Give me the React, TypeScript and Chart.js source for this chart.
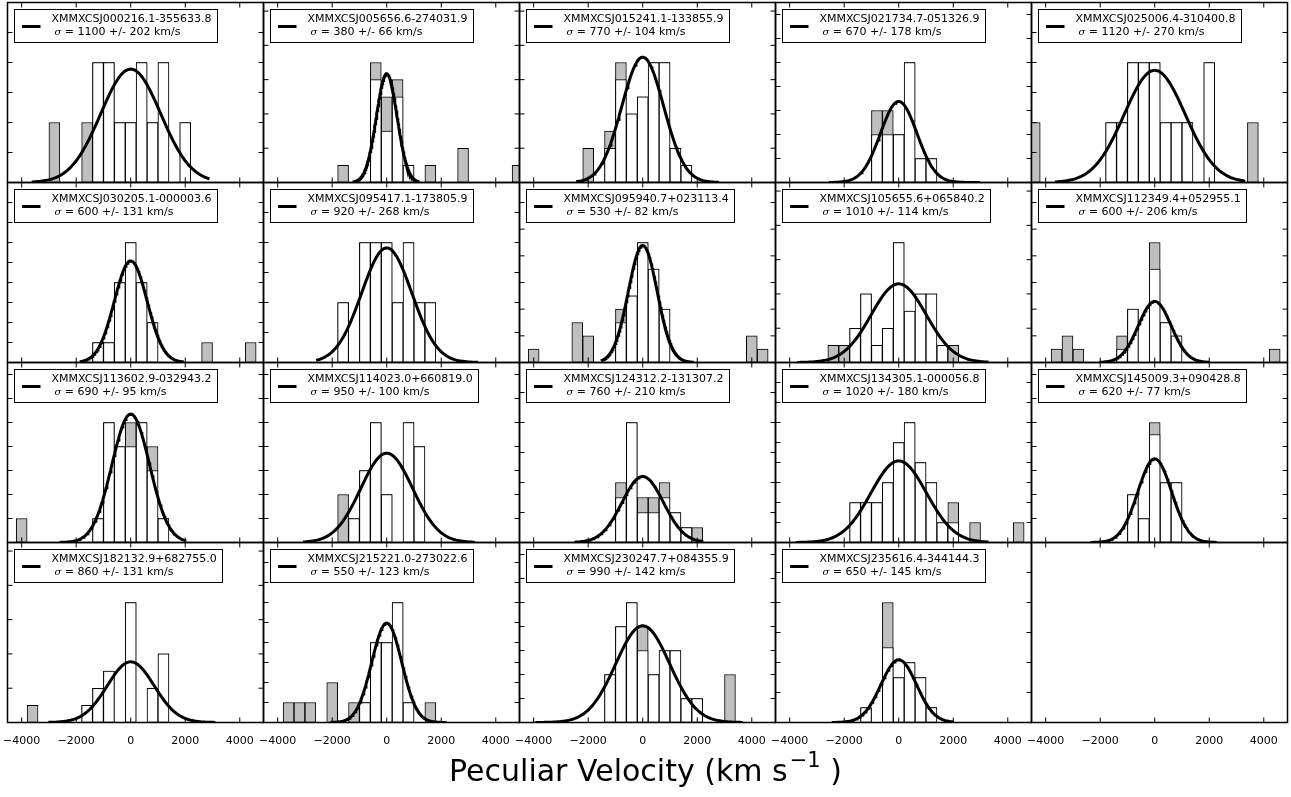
import React, { useEffect, useRef } from "react";
import { Chart, registerables } from "chart.js";

Chart.register(...registerables);
Chart.defaults.font.family = '"DejaVu Sans", sans-serif';

// ---------------- data ----------------
const binCenters = [-4400, -4000, -3600, -3200, -2800, -2400, -2000, -1600, -1200, -800, -400, 0,
  400, 800, 1200, 1600, 2000, 2400, 2800, 3200, 3600, 4000, 4400, 4800];
const xTickValues = [-4000, -2000, 0, 2000, 4000];
const X_MIN = -4520;
const X_MAX = 4870;

const clusterNames = [
  "XMMXCSJ000216.1-355633.8", "XMMXCSJ005656.6-274031.9", "XMMXCSJ015241.1-133855.9",
  "XMMXCSJ021734.7-051326.9", "XMMXCSJ025006.4-310400.8", "XMMXCSJ030205.1-000003.6",
  "XMMXCSJ095417.1-173805.9", "XMMXCSJ095940.7+023113.4", "XMMXCSJ105655.6+065840.2",
  "XMMXCSJ112349.4+052955.1", "XMMXCSJ113602.9-032943.2", "XMMXCSJ114023.0+660819.0",
  "XMMXCSJ124312.2-131307.2", "XMMXCSJ134305.1-000056.8", "XMMXCSJ145009.3+090428.8",
  "XMMXCSJ182132.9+682755.0", "XMMXCSJ215221.0-273022.6", "XMMXCSJ230247.7+084355.9",
  "XMMXCSJ235616.4-344144.3",
];
const sigmaValues = [1100, 380, 770, 670, 1120, 600, 920, 530, 1010, 600, 690, 950, 760, 1020, 620, 860, 550, 990, 650];
const sigmaErrors = [202, 66, 104, 178, 270, 131, 268, 82, 114, 206, 95, 100, 210, 180, 77, 131, 123, 142, 145];

// y-axis upper limit and tick step (counts)
const yMaxCounts = [3, 10.5, 10.5, 7.5, 3, 9, 3, 13.5, 10.5, 13.5, 7.5, 7.5, 12, 9, 15, 10.5, 9, 7.5, 12];
const yTickSteps = [0.5, 2, 2, 1, 0.5, 1, 0.5, 2, 2, 2, 1, 1, 2, 1, 2, 2, 1, 1, 2];
// Gaussian model: peak height (counts) and plotted velocity range
const gaussPeaks = [1.89, 6.34, 7.31, 3.375, 1.87, 5.08, 1.91, 8.78, 4.59, 4.58, 5.35, 3.72, 4.4, 4.08, 6.97, 3.54, 4.97, 4.03, 4.18];
const curveLo = [-3630, -1220, -2440, -2560, -3660, -1870, -2590, -1520, -3720, -2000, -2620, -3070, -2500, -3780, -2350, -3020, -2070, -3940, -2460];
const curveHi = [2890, 1190, 2790, 2980, 3320, 1950, 3350, 1880, 3290, 2000, 2040, 3230, 2220, 3290, 2280, 3100, 2200, 3680, 2010];

// histograms: [bin centre (km/s), count]; "all" = every galaxy (grey), "mem" = members (white)
const all01 = [[-2800, 1], [-1600, 1], [-1200, 2], [-800, 2], [-400, 1], [0, 1], [400, 2], [800, 1], [1200, 2], [2000, 1]];
const mem01 = [[-1200, 2], [-800, 2], [-400, 1], [0, 1], [400, 2], [800, 1], [1200, 2], [2000, 1]];
const all02 = [[-1600, 1], [-400, 7], [0, 5], [400, 6], [800, 1], [1600, 1], [2800, 2], [4800, 1]];
const mem02 = [[-400, 6], [0, 3], [400, 5], [800, 1]];
const all03 = [[-2000, 2], [-1200, 3], [-800, 7], [-400, 4], [0, 5], [400, 7], [800, 7], [1200, 2], [1600, 1]];
const mem03 = [[-1200, 2], [-800, 6], [-400, 4], [0, 5], [400, 7], [800, 7], [1200, 2], [1600, 1]];
const all04 = [[-800, 3], [-400, 3], [0, 2], [400, 5], [800, 1], [1200, 1]];
const mem04 = [[-800, 2], [-400, 2], [0, 2], [400, 5], [800, 1], [1200, 1]];
const all05 = [[-4400, 1], [-1600, 1], [-1200, 1], [-800, 2], [-400, 2], [0, 2], [400, 1], [800, 1], [1200, 1], [2000, 2], [3600, 1]];
const mem05 = [[-1600, 1], [-1200, 1], [-800, 2], [-400, 2], [0, 2], [400, 1], [800, 1], [1200, 1], [2000, 2]];
const all06 = [[-1200, 1], [-800, 1], [-400, 4], [0, 6], [400, 4], [800, 2], [2800, 1], [4400, 1]];
const mem06 = [[-1200, 1], [-800, 1], [-400, 4], [0, 6], [400, 4], [800, 2]];
const all07 = [[-1600, 1], [-800, 2], [-400, 2], [0, 2], [400, 1], [800, 2], [1200, 1], [1600, 1]];
const mem07 = [[-1600, 1], [-800, 2], [-400, 2], [0, 2], [400, 1], [800, 2], [1200, 1], [1600, 1]];
const all08 = [[-4000, 1], [-2400, 3], [-2000, 2], [-800, 4], [-400, 5], [0, 9], [400, 7], [800, 4], [4000, 2], [4400, 1]];
const mem08 = [[-800, 3], [-400, 5], [0, 9], [400, 7], [800, 4]];
const all09 = [[-2400, 1], [-2000, 1], [-1600, 2], [-1200, 4], [-800, 1], [-400, 2], [0, 7], [400, 3], [800, 4], [1200, 4], [1600, 1], [2000, 1]];
const mem09 = [[-1600, 2], [-1200, 4], [-800, 1], [-400, 2], [0, 7], [400, 3], [800, 4], [1200, 4], [1600, 1]];
const all10 = [[-3600, 1], [-3200, 2], [-2800, 1], [-1200, 2], [-800, 4], [0, 9], [400, 3], [800, 2], [4400, 1]];
const mem10 = [[-1200, 1], [-800, 4], [0, 7], [400, 3], [800, 2]];
const all11 = [[-4000, 1], [-1200, 1], [-800, 5], [-400, 4], [0, 5], [400, 5], [800, 4], [1200, 1]];
const mem11 = [[-1200, 1], [-800, 5], [-400, 4], [0, 4], [400, 5], [800, 3], [1200, 1]];
const all12 = [[-1600, 2], [-1200, 1], [-800, 3], [-400, 5], [0, 2], [800, 5], [1200, 4]];
const mem12 = [[-1200, 1], [-800, 3], [-400, 5], [0, 2], [800, 5], [1200, 4]];
const all13 = [[-800, 4], [-400, 8], [0, 3], [400, 3], [800, 4], [1200, 2], [1600, 1], [2000, 1]];
const mem13 = [[-800, 3], [-400, 8], [0, 2], [400, 2], [800, 3], [1200, 2], [1600, 1]];
const all14 = [[-1600, 2], [-1200, 2], [-800, 2], [-400, 3], [0, 5], [400, 6], [800, 4], [1200, 3], [1600, 1], [2000, 2], [2800, 1], [4400, 1]];
const mem14 = [[-1600, 2], [-1200, 2], [-800, 2], [-400, 3], [0, 5], [400, 6], [800, 4], [1200, 3], [1600, 1], [2000, 1]];
const all15 = [[-800, 4], [-400, 2], [0, 10], [400, 5], [800, 5]];
const mem15 = [[-800, 4], [-400, 2], [0, 9], [400, 5], [800, 5]];
const all16 = [[-3600, 1], [-1600, 1], [-1200, 2], [-800, 3], [0, 7], [800, 2], [1200, 4]];
const mem16 = [[-1600, 1], [-1200, 2], [-800, 3], [0, 7], [800, 2], [1200, 4]];
const all17 = [[-3600, 1], [-3200, 1], [-2800, 1], [-2000, 2], [-1200, 1], [-800, 1], [-400, 4], [0, 4], [400, 6], [800, 1], [1600, 1]];
const mem17 = [[-800, 1], [-400, 4], [0, 4], [400, 6], [800, 1]];
const all18 = [[-1200, 2], [-800, 4], [-400, 5], [0, 4], [400, 2], [800, 3], [1200, 3], [1600, 1], [2000, 1], [3200, 2]];
const mem18 = [[-1200, 2], [-800, 4], [-400, 5], [0, 3], [400, 2], [800, 3], [1200, 3], [1600, 1], [2000, 1]];
const all19 = [[-1200, 1], [-400, 8], [0, 3], [400, 4], [800, 3], [1200, 1]];
const mem19 = [[-1200, 1], [-400, 5], [0, 3], [400, 4], [800, 3], [1200, 1]];

const allHists = [all01, all02, all03, all04, all05, all06, all07, all08, all09, all10, all11, all12, all13, all14, all15, all16, all17, all18, all19];
const memHists = [mem01, mem02, mem03, mem04, mem05, mem06, mem07, mem08, mem09, mem10, mem11, mem12, mem13, mem14, mem15, mem16, mem17, mem18, mem19];

// ---------------- layout ----------------
const PANEL_W = 256;
const PANEL_H = 180;
const PAD = 2.5;
const PAD_X = 22.5;
const LABEL_H = 30;
const FRAME_LEFT = 7.5;
const FRAME_TOP = 2.5;
const GREY = "#bfbfbf";

function dense(pairs: number[][]) {
  return binCenters.map((c) => {
    const f = pairs.find((p) => p[0] === c);
    return { x: c, y: f ? f[1] : null };
  });
}

function gaussCurve(i: number) {
  const pts: { x: number; y: number }[] = [];
  const n = 160;
  const s = sigmaValues[i];
  for (let k = 0; k <= n; k++) {
    const x = curveLo[i] + ((curveHi[i] - curveLo[i]) * k) / n;
    pts.push({ x, y: gaussPeaks[i] * Math.exp(-(x * x) / (2 * s * s)) });
  }
  return pts;
}

function fmtTick(v: number) {
  return v < 0 ? "\u2212" + Math.abs(v) : String(v);
}

function makeFramePlugin(i: number) {
  return {
    id: "frame",
    afterDraw(chart: any) {
      const { ctx, chartArea: a, scales } = chart;
      const xs = scales.x;
      const ys = scales.y;
      ctx.save();
      ctx.strokeStyle = "#000";
      ctx.lineWidth = 1;
      ctx.beginPath();
      for (const v of xTickValues) {
        const px = xs.getPixelForValue(v);
        ctx.moveTo(px, a.bottom);
        ctx.lineTo(px, a.bottom - 5);
        ctx.moveTo(px, a.top);
        ctx.lineTo(px, a.top + 5);
      }
      if (i < clusterNames.length) {
        const step = yTickSteps[i];
        for (let k = 1; k * step < yMaxCounts[i] - 1e-9; k++) {
          const py = ys.getPixelForValue(k * step);
          ctx.moveTo(a.left, py);
          ctx.lineTo(a.left + 5, py);
          ctx.moveTo(a.right, py);
          ctx.lineTo(a.right - 5, py);
        }
      }
      ctx.stroke();
      ctx.lineWidth = 1.5;
      ctx.strokeRect(a.left, a.top, a.right - a.left, a.bottom - a.top);
      if (i < clusterNames.length) {
        const name = clusterNames[i];
        ctx.font = '11px "DejaVu Sans"';
        const w = ctx.measureText(name).width;
        const x0 = Math.round(a.left + 6) + 0.5;
        const y0 = Math.round(a.top + 6) + 0.5;
        const bw = Math.round(w + 43);
        const bh = 33;
        ctx.fillStyle = "#fff";
        ctx.fillRect(x0, y0, bw, bh);
        ctx.lineWidth = 1;
        ctx.strokeRect(x0, y0, bw, bh);
        ctx.lineWidth = 3;
        ctx.beginPath();
        ctx.moveTo(x0 + 7.5, y0 + 17);
        ctx.lineTo(x0 + 26, y0 + 17);
        ctx.stroke();
        ctx.fillStyle = "#000";
        ctx.textAlign = "left";
        ctx.textBaseline = "alphabetic";
        ctx.fillText(name, x0 + 37, y0 + 12.5);
        ctx.font = 'italic 10px "DejaVu Serif"';
        ctx.fillText("\u03c3", x0 + 40, y0 + 25);
        const sw = ctx.measureText("\u03c3").width;
        ctx.font = '11px "DejaVu Sans"';
        ctx.fillText(" = " + sigmaValues[i] + " +/- " + sigmaErrors[i] + " km/s", x0 + 40 + sw, y0 + 25);
      }
      ctx.restore();
    },
  };
}

function makeConfig(i: number): any {
  const row = Math.floor(i / 5);
  const isBottom = row === 3;
  const hasData = i < clusterNames.length;
  const datasets: any[] = [];
  if (hasData) {
    datasets.push({
      type: "line",
      data: gaussCurve(i),
      borderColor: "#000",
      borderWidth: 3,
      pointRadius: 0,
      tension: 0,
      order: 0,
    });
    datasets.push({
      type: "bar",
      data: dense(memHists[i]),
      backgroundColor: "#ffffff",
      borderColor: "#000",
      borderWidth: 1,
      borderSkipped: false,
      grouped: false,
      categoryPercentage: 1,
      barPercentage: 1,
      order: 1,
    });
    datasets.push({
      type: "bar",
      data: dense(allHists[i]),
      backgroundColor: GREY,
      borderColor: "#000",
      borderWidth: 1,
      borderSkipped: false,
      grouped: false,
      categoryPercentage: 1,
      barPercentage: 1,
      order: 2,
    });
  }
  return {
    type: "bar",
    data: { datasets },
    options: {
      responsive: false,
      animation: false,
      events: [],
      layout: { padding: { left: PAD_X, right: PAD_X, top: PAD, bottom: PAD } },
      plugins: { legend: { display: false }, tooltip: { enabled: false } },
      scales: {
        x: {
          type: "linear",
          min: X_MIN,
          max: X_MAX,
          offset: false,
          display: isBottom,
          grid: { display: false },
          border: { display: false },
          ticks: {
            color: "#000",
            font: { size: 11, family: '"DejaVu Sans"' },
            padding: 4,
            maxRotation: 0,
            autoSkip: false,
            callback: (v: number) => fmtTick(v),
          },
          afterBuildTicks: (s: any) => {
            s.ticks = xTickValues.map((v) => ({ value: v }));
          },
          afterFit: (s: any) => {
            s.paddingLeft = 0;
            s.paddingRight = 0;
            if (isBottom) s.height = LABEL_H;
          },
        },
        y: {
          type: "linear",
          min: 0,
          max: hasData ? yMaxCounts[i] : 1,
          display: false,
        },
      },
    },
    plugins: [makeFramePlugin(i)],
  };
}

function Panel({ index }: { index: number }) {
  const ref = useRef<HTMLCanvasElement>(null);
  useEffect(() => {
    if (!ref.current) return;
    const chart = new Chart(ref.current, makeConfig(index));
    return () => chart.destroy();
  }, [index]);
  const row = Math.floor(index / 5);
  const col = index % 5;
  const isBottom = row === 3;
  const w = PANEL_W + 2 * PAD_X;
  const h = PANEL_H + 2 * PAD + (isBottom ? LABEL_H : 0);
  return (
    <canvas
      ref={ref}
      width={w}
      height={h}
      style={{
        position: "absolute",
        left: FRAME_LEFT - PAD_X + PANEL_W * col,
        top: FRAME_TOP - PAD + PANEL_H * row,
        width: w,
        height: h,
      }}
    />
  );
}

export default function App() {
  const panels = Array.from({ length: 20 }, (_, k) => k);
  return (
    <div style={{ position: "absolute", left: 0, top: 0, width: 1291, height: 797, background: "#fff", overflow: "hidden" }}>
      {panels.map((k) => (
        <Panel key={k} index={k} />
      ))}
      <div
        style={{
          position: "absolute",
          left: 0,
          top: 753,
          width: 1291,
          textAlign: "center",
          fontFamily: '"DejaVu Sans", sans-serif',
          fontSize: 30,
          lineHeight: "36px",
          color: "#000",
          whiteSpace: "nowrap",
        }}
      >
        Peculiar Velocity (km s
        <span style={{ fontSize: 21, position: "relative", top: -14, marginLeft: 2 }}>{"\u22121"}</span> )
      </div>
    </div>
  );
}
